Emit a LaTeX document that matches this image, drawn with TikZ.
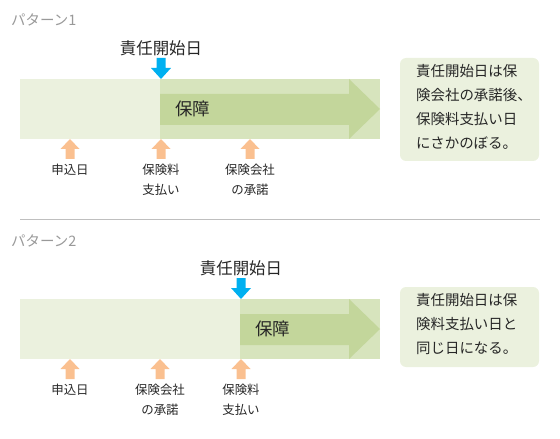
\documentclass[tikz,border=0pt]{standalone}
\usepackage{fontspec}
\setmainfont{Noto Sans CJK JP}
\definecolor{lightG}{HTML}{EBF1DE}
\definecolor{midG}{HTML}{D7E4BD}
\definecolor{darkG}{HTML}{C3D69B}
\definecolor{blueC}{HTML}{00B0F0}
\definecolor{orangeC}{HTML}{FAC090}
\definecolor{grayT}{HTML}{999999}
\definecolor{textC}{HTML}{262626}
\tikzset{
  bluearr/.pic={\fill[blueC] (-4.5,-21)--(4.5,-21)--(4.5,-11)--(10,-11)--(0,0)--(-10,-11)--(-4.5,-11)--cycle;},
  orangearr/.pic={\fill[orangeC] (-4.5,20)--(4.5,20)--(4.5,10)--(9.5,10)--(0,0)--(-9.5,10)--(-4.5,10)--cycle;},
  pattitle/.style={anchor=west, text=grayT, font=\fontsize{14.5}{16}\selectfont, inner sep=0},
  starttxt/.style={text=textC, font=\fontsize{16.5}{18}\selectfont, inner sep=0},
  hoshotxt/.style={anchor=west, text=textC, font=\fontsize{17.5}{19}\selectfont, inner sep=0},
  lbl/.style={anchor=north, text=textC, align=center, font=\fontsize{12.5}{20}\selectfont, inner sep=0},
  notebox/.style={fill=lightG, rounded corners=6bp, draw=none},
  notetxt/.style={anchor=north west, text=textC, align=left, font=\fontsize{14.5}{24}\selectfont, inner sep=0},
}
\begin{document}
\begin{tikzpicture}[x=1bp,y=-1bp]
\useasboundingbox (0,0) rectangle (560,439);
% ---------- Pattern 1 ----------
\node[pattitle] (t1) at (11,20) {パターン1};
\fill[lightG] (20,79) rectangle (160,139);
\fill[midG] (160,79) rectangle (380,139);
\fill[darkG] (160,94)--(349,94)--(349,79)--(380,109)--(349,139)--(349,125)--(160,125)--cycle;
\node[hoshotxt] (h1) at (175,109) {保障};
\node[starttxt] (s1) at (161,48) {責任開始日};
\pic at (161,79) {bluearr};
\pic at (70,139) {orangearr};
\pic at (161,139) {orangearr};
\pic at (250,139) {orangearr};
\node[lbl] (a1) at (70,164) {申込日};
\node[lbl] (b1) at (161,164) {保険料\\支払い};
\node[lbl] (c1) at (250,164) {保険会社\\の承諾};
\fill[notebox] (400,58) rectangle (539,161);
\node[notetxt] (n1) at (416,64) {責任開始日は保\\険会社の承諾後、\\保険料支払い日\\にさかのぼる。};
% separator
\draw[line width=0.8bp, draw=black!25] (20,219) -- (540,219);
% ---------- Pattern 2 ----------
\node[pattitle] (t2) at (11,241) {パターン2};
\fill[lightG] (20,299) rectangle (240,359);
\fill[midG] (240,299) rectangle (380,359);
\fill[darkG] (240,314)--(349,314)--(349,299)--(380,329)--(349,359)--(349,345)--(240,345)--cycle;
\node[hoshotxt] (h2) at (255,329) {保障};
\node[starttxt] (s2) at (241,268) {責任開始日};
\pic at (241,299) {bluearr};
\pic at (70,359) {orangearr};
\pic at (160,359) {orangearr};
\pic at (241,359) {orangearr};
\node[lbl] (a2) at (70,384) {申込日};
\node[lbl] (b2) at (160,384) {保険会社\\の承諾};
\node[lbl] (c2) at (241,384) {保険料\\支払い};
\fill[notebox] (400,287) rectangle (539,367);
\node[notetxt] (n2) at (416,293) {責任開始日は保\\険料支払い日と\\同じ日になる。};
\end{tikzpicture}
\end{document}
